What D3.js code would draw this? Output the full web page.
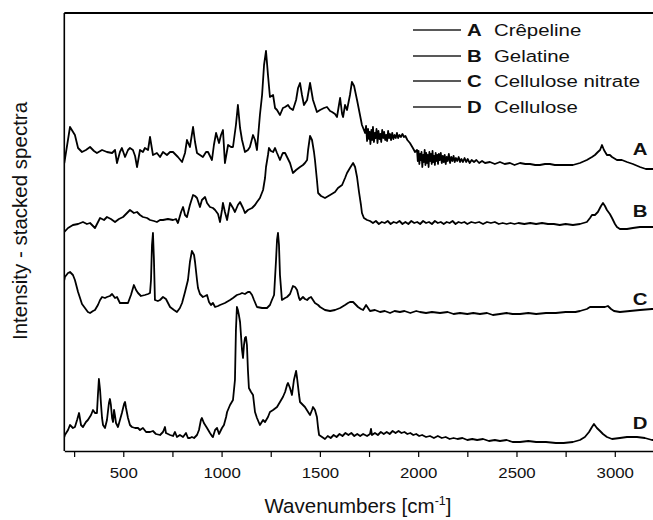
<!DOCTYPE html>
<html>
<head>
<meta charset="utf-8">
<script src="https://cdn.jsdelivr.net/npm/d3@7"></script>
<style>
  html, body { margin: 0; padding: 0; background: #fff; }
  svg { display: block; }
  text { font-family: 'Liberation Sans', Arial, sans-serif; fill: #111; }
</style>
</head>
<body>
<script>
// spectra: [wavenumber cm-1, stacked intensity (a.u.)]
const crepeline = [[200,288],[229,324],[254,316],[270,303],[290,299],[310,301],[331,304],[351,300],[366,298],[392,301],[417,299],[443,298],[458,301],[468,288],[483,299],[493,303],[509,294],[524,301],[534,303],[549,301],[560,295],[570,284],[585,301],[600,299],[610,303],[626,301],[636,314],[651,296],[671,298],[687,294],[702,299],[722,296],[738,299],[753,299],[778,294],[799,289],[814,298],[824,311],[839,304],[855,324],[865,309],[875,298],[890,296],[905,294],[921,299],[931,299],[951,291],[961,306],[972,318],[987,308],[997,316],[1007,321],[1017,288],[1033,306],[1048,304],[1058,304],[1073,326],[1083,346],[1094,323],[1104,311],[1119,299],[1134,301],[1144,304],[1160,316],[1170,311],[1180,301],[1195,336],[1206,356],[1216,386],[1226,400],[1236,376],[1246,354],[1262,356],[1272,343],[1282,341],[1297,336],[1312,343],[1323,344],[1338,346],[1348,343],[1363,341],[1379,351],[1389,363],[1399,368],[1409,356],[1419,346],[1435,351],[1450,368],[1465,351],[1485,339],[1501,341],[1521,343],[1536,344],[1552,340],[1562,339],[1577,337],[1587,334],[1597,346],[1603,353],[1613,337],[1618,334],[1628,346],[1638,341],[1653,356],[1663,369],[1674,365],[1689,351],[1704,336],[1714,326],[1730,318],[1735,325],[1740,310],[1745,322],[1750,312],[1753,319],[1757,307],[1762,321],[1766,311],[1770,324],[1775,309],[1780,318],[1784,313],[1788,322],[1793,308],[1798,320],[1803,312],[1808,317],[1812,309],[1817,321],[1822,313],[1827,319],[1832,311],[1837,316],[1842,310],[1847,320],[1852,313],[1857,317],[1862,311],[1868,318],[1874,312],[1880,316],[1886,313],[1892,318],[1898,313],[1905,316],[1912,314],[1920,317],[1928,314],[1935,315],[1945,311],[1958,308],[1973,303],[1984,299],[1994,301],[1998,290],[2002,300],[2006,287],[2010,297],[2013,291],[2017,299],[2021,284],[2025,296],[2029,289],[2033,301],[2037,286],[2041,298],[2045,288],[2049,296],[2053,284],[2057,299],[2061,290],[2065,297],[2069,287],[2073,300],[2077,289],[2081,295],[2085,286],[2089,298],[2093,290],[2097,296],[2101,287],[2105,297],[2110,291],[2115,298],[2120,288],[2125,295],[2130,289],[2135,296],[2140,287],[2145,294],[2150,290],[2156,297],[2162,288],[2168,294],[2174,290],[2180,295],[2186,289],[2192,293],[2199,290],[2206,294],[2213,289],[2220,292],[2228,289],[2236,293],[2244,289],[2252,292],[2262,288],[2272,291],[2284,289],[2296,291],[2310,288],[2325,290],[2340,288],[2365,289],[2390,287],[2416,289],[2440,287],[2467,288],[2490,286],[2518,288],[2545,287],[2569,287],[2595,286],[2619,286],[2645,287],[2670,287],[2695,286],[2721,286],[2755,286],[2787,286],[2823,288],[2858,291],[2884,294],[2899,296],[2914,299],[2925,301],[2935,306],[2945,301],[2960,296],[2975,296],[2986,294],[3011,291],[3036,291],[3062,289],[3092,287],[3128,284],[3158,282],[3189,282],[3200,282]]

const gelatine = [[200,219],[219,223],[244,226],[270,227],[295,229],[315,227],[331,228],[356,223],[382,233],[402,231],[417,234],[437,232],[458,229],[478,232],[499,234],[519,238],[534,241],[554,238],[570,239],[585,236],[600,234],[621,233],[636,231],[656,230],[671,229],[687,231],[702,231],[727,232],[753,231],[768,232],[778,228],[794,239],[804,244],[814,236],[824,234],[839,246],[855,256],[865,255],[875,253],[890,244],[900,251],[916,254],[926,248],[941,244],[956,243],[967,241],[982,237],[992,229],[1002,241],[1007,248],[1017,239],[1028,231],[1043,248],[1058,243],[1068,239],[1083,246],[1094,249],[1109,243],[1119,238],[1134,241],[1155,243],[1170,246],[1180,249],[1195,253],[1211,261],[1221,273],[1226,284],[1236,296],[1241,303],[1251,300],[1262,299],[1272,303],[1282,298],[1297,291],[1307,296],[1312,298],[1323,298],[1333,294],[1348,288],[1363,278],[1379,281],[1399,284],[1414,286],[1424,288],[1435,291],[1440,301],[1450,315],[1460,311],[1470,299],[1475,291],[1485,271],[1491,258],[1506,255],[1526,253],[1552,256],[1577,259],[1592,263],[1613,266],[1628,273],[1638,278],[1653,283],[1669,288],[1679,284],[1689,274],[1699,259],[1709,246],[1714,238],[1724,233],[1740,231],[1755,230],[1770,228],[1785,230],[1800,227],[1815,229],[1830,228],[1845,230],[1860,227],[1875,229],[1890,228],[1905,230],[1920,227],[1935,229],[1950,227],[1965,230],[1980,228],[1995,229],[2010,227],[2025,230],[2040,228],[2055,229],[2070,227],[2085,230],[2100,228],[2115,229],[2130,227],[2145,229],[2160,228],[2175,230],[2190,227],[2205,229],[2220,228],[2235,229],[2250,227],[2270,229],[2290,228],[2310,229],[2330,227],[2350,229],[2370,228],[2390,229],[2410,227],[2430,228],[2450,227],[2470,228],[2490,227],[2510,228],[2540,227],[2570,228],[2600,227],[2630,228],[2660,227],[2690,227],[2720,226],[2750,227],[2787,226],[2823,227],[2858,229],[2874,233],[2884,236],[2899,236],[2914,239],[2930,245],[2940,248],[2950,245],[2960,241],[2975,237],[2986,233],[3001,227],[3011,224],[3026,222],[3037,222],[3062,222],[3092,223],[3128,224],[3158,224],[3189,224],[3200,224]]

const celluloseNitrate = [[200,171],[203,174],[219,178],[229,179],[244,176],[254,171],[270,159],[280,153],[290,147],[305,143],[320,139],[331,138],[346,140],[356,141],[371,146],[382,151],[392,154],[407,153],[417,154],[432,155],[443,157],[458,153],[468,154],[483,148],[509,148],[524,148],[539,156],[554,166],[565,161],[575,158],[590,155],[610,156],[626,157],[636,158],[641,171],[646,206],[651,218],[656,191],[661,151],[676,150],[687,151],[702,154],[717,152],[738,144],[758,141],[773,139],[788,143],[799,148],[814,159],[829,171],[839,189],[849,200],[860,196],[865,189],[875,171],[880,163],[890,157],[905,154],[916,155],[926,156],[936,149],[946,146],[956,148],[967,144],[982,145],[992,146],[1017,148],[1043,151],[1058,153],[1078,156],[1094,157],[1104,158],[1119,157],[1134,159],[1144,159],[1155,156],[1165,151],[1180,144],[1206,143],[1231,143],[1246,146],[1256,151],[1267,156],[1277,191],[1282,211],[1287,218],[1292,206],[1297,176],[1307,151],[1323,153],[1333,154],[1348,157],[1363,165],[1374,164],[1384,161],[1394,153],[1399,151],[1414,154],[1424,152],[1435,151],[1445,153],[1455,154],[1465,151],[1475,148],[1491,146],[1501,144],[1526,141],[1552,140],[1577,141],[1603,143],[1628,146],[1643,148],[1653,149],[1669,149],[1679,147],[1694,144],[1709,142],[1720,141],[1735,146],[1745,143],[1755,140],[1780,141],[1806,139],[1830,140],[1857,138],[1880,140],[1907,139],[1930,140],[1960,138],[1990,140],[2009,139],[2040,138],[2070,139],[2111,138],[2150,139],[2180,137],[2213,138],[2250,137],[2280,138],[2314,137],[2350,138],[2380,136],[2416,137],[2450,138],[2480,137],[2518,137],[2560,138],[2600,137],[2650,138],[2700,138],[2750,139],[2800,139],[2823,140],[2858,142],[2874,144],[2899,144],[2925,144],[2950,144],[2965,145],[2981,142],[2996,140],[3026,139],[3077,140],[3128,141],[3189,142],[3200,142]]

const cellulose = [[200,14],[203,16],[219,21],[229,26],[244,23],[254,24],[265,31],[275,38],[285,26],[295,24],[310,29],[320,31],[336,36],[346,41],[356,38],[366,38],[371,56],[376,72],[382,61],[387,46],[392,33],[397,26],[407,23],[417,31],[427,48],[432,52],[437,46],[443,33],[448,29],[453,41],[458,35],[463,28],[473,24],[483,31],[493,38],[504,47],[509,49],[514,43],[524,33],[534,26],[544,24],[560,23],[575,23],[585,21],[600,23],[616,19],[636,19],[651,20],[666,17],[687,16],[702,19],[712,24],[717,18],[738,16],[753,15],[763,19],[773,14],[788,16],[804,14],[819,18],[829,13],[839,13],[849,14],[860,13],[875,16],[885,21],[895,31],[900,33],[910,28],[926,23],[941,18],[951,15],[956,14],[967,21],[977,23],[987,17],[997,21],[1002,23],[1012,26],[1023,34],[1028,39],[1043,46],[1058,51],[1068,71],[1073,121],[1078,144],[1083,141],[1088,136],[1094,129],[1104,101],[1109,93],[1114,106],[1119,113],[1124,114],[1129,106],[1134,81],[1139,63],[1150,59],[1160,56],[1170,39],[1180,33],[1195,26],[1211,31],[1221,29],[1236,34],[1246,39],[1262,41],[1282,44],[1297,49],[1312,54],[1323,59],[1333,66],[1338,68],[1348,63],[1358,56],[1368,71],[1379,80],[1384,73],[1394,56],[1399,49],[1414,46],[1424,44],[1440,39],[1450,36],[1460,41],[1465,44],[1475,41],[1485,34],[1491,23],[1496,16],[1511,14],[1526,12],[1540,15],[1555,13],[1570,16],[1585,14],[1600,17],[1615,15],[1630,18],[1645,16],[1660,18],[1675,15],[1690,17],[1705,15],[1720,17],[1740,15],[1755,17],[1760,22],[1765,16],[1780,18],[1795,16],[1810,19],[1825,17],[1840,19],[1855,17],[1870,20],[1885,18],[1900,20],[1915,18],[1930,19],[1945,17],[1960,18],[1975,16],[1990,17],[2005,15],[2020,16],[2040,14],[2060,15],[2080,13],[2100,15],[2120,13],[2140,14],[2160,12],[2180,13],[2200,12],[2225,13],[2250,11],[2275,12],[2300,11],[2330,12],[2360,10],[2390,11],[2416,10],[2450,11],[2480,9],[2518,9],[2560,10],[2600,9],[2650,9],[2700,8],[2740,8],[2787,9],[2823,11],[2848,14],[2869,19],[2884,24],[2894,27],[2909,23],[2925,20],[2940,17],[2960,14],[2986,12],[3026,13],[3062,14],[3113,14],[3153,13],[3189,11],[3200,11]]

const seriesKeys = ['A', 'B', 'C', 'D']
const seriesNames = ['Crêpeline', 'Gelatine', 'Cellulose nitrate', 'Cellulose']
const seriesData = [crepeline, gelatine, celluloseNitrate, cellulose]
const xTickValues = [250, 500, 750, 1000, 1250, 1500, 1750, 2000, 2250, 2500, 2750, 3000]
const xDomain = [200, 3200]

const W = 653, H = 520
const plot = { left: 64.3, right: 654.1, top: 13, bottom: 451 }
const stretch = 'scale(1.2,1)'

const x = d3.scaleLinear().domain(xDomain).range([plot.left, plot.right])
const y = d3.scaleLinear().domain([0, 438]).range([plot.bottom, plot.top])

const svg = d3.select(document.body).append('svg')
  .attr('width', W)
  .attr('height', H)
  .attr('viewBox', `0 0 ${W} ${H}`)

svg.append('defs').append('clipPath').attr('id', 'plotClip')
  .append('rect')
  .attr('x', plot.left)
  .attr('y', plot.top)
  .attr('width', plot.right - plot.left)
  .attr('height', plot.bottom - plot.top)

// spectra
const line = d3.line().x(d => x(d[0])).y(d => y(d[1]))

svg.append('g').attr('clip-path', 'url(#plotClip)')
  .selectAll('path')
  .data(seriesData)
  .join('path')
  .attr('d', line)
  .attr('fill', 'none')
  .attr('stroke', '#000')
  .attr('stroke-width', 1.8)
  .attr('stroke-linejoin', 'round')

// frame: left and top lines
svg.append('line')
  .attr('x1', plot.left).attr('x2', plot.left)
  .attr('y1', plot.top).attr('y2', plot.bottom)
  .attr('stroke', '#000').attr('stroke-width', 1.6)
svg.append('line')
  .attr('x1', plot.left).attr('x2', plot.right)
  .attr('y1', plot.top).attr('y2', plot.top)
  .attr('stroke', '#000').attr('stroke-width', 1.8)

// bottom axis
const xAxis = d3.axisBottom(x)
  .tickValues(xTickValues)
  .tickSize(6)
  .tickSizeOuter(0)
  .tickPadding(11)
  .tickFormat(d => d % 500 === 0 ? d : '')

const gx = svg.append('g')
  .attr('transform', `translate(0,${plot.bottom})`)
  .call(xAxis)
gx.select('.domain').attr('stroke', '#000').attr('stroke-width', 1.6)
gx.selectAll('.tick line').attr('stroke', '#000').attr('stroke-width', 1.2)
gx.selectAll('.tick text')
  .attr('font-family', null)
  .attr('font-size', 14)
  .attr('fill', '#111')
  .attr('transform', stretch)

// axis titles
svg.append('text')
  .attr('transform', 'translate(27,221) rotate(-90)')
  .attr('text-anchor', 'middle')
  .attr('font-size', 20.5)
  .text('Intensity - stacked spectra')

const xt = svg.append('text')
  .attr('x', 358)
  .attr('y', 513)
  .attr('text-anchor', 'middle')
  .attr('font-size', 20.5)
xt.append('tspan').text('Wavenumbers [cm')
xt.append('tspan').attr('dy', -8).attr('font-size', 12.5).text('-1')
xt.append('tspan').attr('dy', 8).text(']')

// series letters at the right
const labelY = [155, 217, 305, 429]
svg.append('g')
  .selectAll('text')
  .data(seriesKeys)
  .join('text')
  .attr('transform', (d, i) => `translate(640,${labelY[i]}) ${stretch}`)
  .attr('text-anchor', 'middle')
  .attr('font-size', 17)
  .attr('font-weight', 'bold')
  .text(d => d)

// legend
const legendRowY = [30, 56, 81, 107]
const legend = svg.append('g')
  .selectAll('g')
  .data(seriesKeys)
  .join('g')
  .attr('transform', (d, i) => `translate(0,${legendRowY[i]})`)

legend.append('line')
  .attr('x1', 413).attr('x2', 461)
  .attr('y1', 0).attr('y2', 0)
  .attr('stroke', '#222')
  .attr('stroke-width', 1.5)

legend.append('text')
  .attr('transform', `translate(467,6) ${stretch}`)
  .attr('font-size', 17)
  .attr('font-weight', 'bold')
  .text(d => d)

legend.append('text')
  .attr('transform', `translate(494,6) ${stretch}`)
  .attr('font-size', 17)
  .text((d, i) => seriesNames[i])
</script>
</body>
</html>
